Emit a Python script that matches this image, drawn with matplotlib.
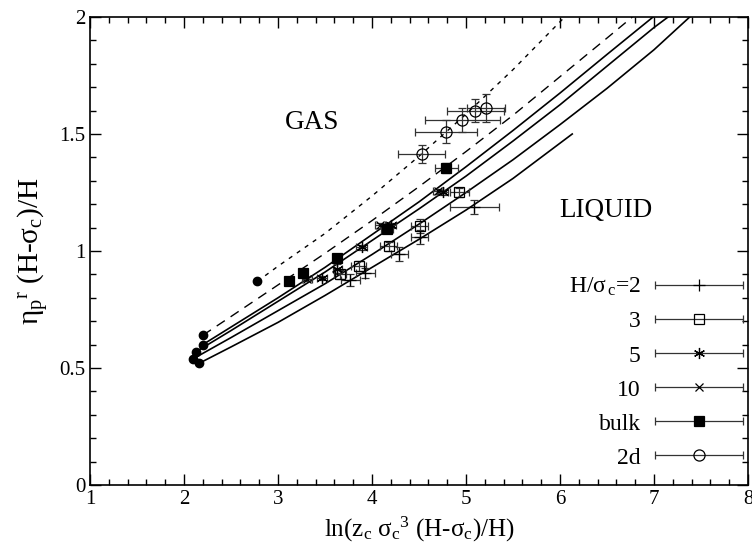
import matplotlib
matplotlib.use('Agg')
import matplotlib.pyplot as plt
import numpy as np
from matplotlib.container import ErrorbarContainer
from matplotlib.legend_handler import HandlerErrorbar

plt.rcParams['font.family'] = ['Liberation Serif', 'DejaVu Serif']
plt.rcParams['mathtext.fontset'] = 'custom'
plt.rcParams['mathtext.rm'] = 'Liberation Serif'
plt.rcParams['mathtext.it'] = 'Liberation Serif:italic'

# theory curves
x_h2 = [2.16, 2.5, 3.0, 3.5, 4.0, 4.5, 5.0, 5.5, 6.13]
y_h2 = [0.52, 0.59, 0.695, 0.81, 0.93, 1.05, 1.175, 1.31, 1.50]
x_h3 = [2.1, 2.5, 3.0, 3.5, 4.0, 4.5, 5.0, 5.5, 6.0, 6.5, 7.0, 7.38]
y_h3 = [0.54, 0.63, 0.745, 0.86, 0.985, 1.115, 1.25, 1.39, 1.54, 1.695, 1.86, 2.0]
x_h5 = [2.13, 2.5, 3.0, 3.5, 4.0, 4.5, 5.0, 5.5, 6.0, 6.5, 7.0, 7.15]
y_h5 = [0.57, 0.66, 0.785, 0.91, 1.045, 1.18, 1.32, 1.47, 1.625, 1.79, 1.955, 2.0]
x_h10 = [2.2, 2.5, 3.0, 3.5, 4.0, 4.5, 5.0, 5.5, 6.0, 6.5, 6.99]
y_h10 = [0.60, 0.675, 0.80, 0.93, 1.07, 1.21, 1.36, 1.515, 1.675, 1.84, 2.0]
x_bulk = [2.2, 2.5, 3.0, 3.5, 4.0, 4.5, 5.0, 5.5, 6.0, 6.5, 6.77]
y_bulk = [0.64, 0.72, 0.855, 0.99, 1.13, 1.275, 1.425, 1.58, 1.745, 1.91, 2.0]
x_2d = [2.78, 3.0, 3.5, 4.0, 4.5, 5.0, 5.5, 6.05]
y_2d = [0.87, 0.935, 1.075, 1.235, 1.405, 1.585, 1.775, 2.0]

# simulation points: x, y, xerr, yerr
sim_h2 = [[3.77, 3.93, 4.29, 4.51, 5.09], [0.876, 0.906, 0.987, 1.06, 1.19],
          [0.10, 0.10, 0.09, 0.09, 0.26], [0.025, 0.02, 0.03, 0.03, 0.03]]
sim_h3 = [[3.66, 3.86, 4.18, 4.51, 4.93], [0.90, 0.936, 1.02, 1.107, 1.25],
          [0.06, 0.08, 0.09, 0.09, 0.10], [0.02, 0.02, 0.02, 0.03, 0.02]]
sim_h5 = [[3.47, 3.63, 3.89, 4.20, 4.75], [0.885, 0.925, 1.015, 1.11, 1.25],
          [0.05, 0.05, 0.06, 0.06, 0.06], [0.01, 0.02, 0.01, 0.01, 0.01]]
sim_h10 = [[3.31, 4.09, 4.70], [0.88, 1.11, 1.255],
           [0.05, 0.06, 0.05], [0.01, 0.01, 0.01]]
sim_bulk = [[3.12, 3.27, 3.63, 4.16, 4.79], [0.87, 0.905, 0.97, 1.095, 1.355],
            [0.03, 0.03, 0.03, 0.06, 0.12], [0.01, 0.01, 0.01, 0.02, 0.02]]
sim_2d = [[4.53, 4.79, 4.96, 5.10, 5.21], [1.414, 1.51, 1.56, 1.60, 1.61],
          [0.25, 0.33, 0.40, 0.30, 0.20], [0.04, 0.05, 0.05, 0.05, 0.06]]

labels = [r'H/$\mathrm{\sigma}_{\,\mathrm{c}}$=2', '3', '5', '10', 'bulk', '2d']

fig = plt.figure(figsize=(7.52, 5.55), dpi=100)
ax = fig.add_axes([0.1197, 0.1261, 0.8750, 0.8433])

for xc, yc in [(x_h2, y_h2), (x_h3, y_h3), (x_h5, y_h5), (x_h10, y_h10)]:
    ax.plot(xc, yc, color='black', lw=1.2)
ax.plot(x_bulk, y_bulk, color='black', lw=1.0, dashes=(7, 5))
ax.plot(x_2d, y_2d, color='black', lw=1.0, dashes=(3, 4))

# filled circles at the start of each curve
starts_x = [x_h2[0], x_h3[0], x_h5[0], x_h10[0], x_bulk[0], x_2d[0]]
starts_y = [y_h2[0], y_h3[0], y_h5[0], y_h10[0], y_bulk[0], y_2d[0]]
ax.plot(starts_x, starts_y, 'o', color='black', ms=6)

sims = [sim_h2, sim_h3, sim_h5, sim_h10, sim_bulk, sim_2d]
marks = [dict(marker='+', ms=8, mfc='none'),
         dict(marker='s', ms=7, mfc='none'),
         dict(marker=(6, 2, 0), ms=8, mfc='none'),
         dict(marker='x', ms=6, mfc='none'),
         dict(marker='s', ms=7, mfc='black'),
         dict(marker='o', ms=8, mfc='none')]

handles = []
for s, m, lab in zip(sims, marks, labels):
    ax.errorbar(s[0], s[1], xerr=s[2], yerr=s[3], ls='none', color='black',
                ecolor='#333333', elinewidth=0.9, capsize=3, mew=0.9, **m)
    h = ax.errorbar([np.nan], [np.nan], xerr=[0.1], ls='none', color='black',
                    ecolor='#333333', elinewidth=0.9, capsize=3, mew=0.9,
                    label=lab, **m)
    handles.append(h)

ax.legend(handles=handles, loc='lower right', bbox_to_anchor=(0.9924, 0.035),
          frameon=False, markerfirst=False, fontsize=17, handlelength=3.73,
          labelspacing=0.53, handletextpad=0.6, borderpad=0, borderaxespad=0,
          handler_map={ErrorbarContainer: HandlerErrorbar(xerr_size=1.86)})

ax.text(3.36, 1.55, 'GAS', fontsize=19.5, ha='center', va='center')
ax.text(6.49, 1.175, 'LIQUID', fontsize=19.5, ha='center', va='center')

ax.set_xlim(1, 8)
ax.set_ylim(0, 2)
ax.set_xticks(np.arange(1, 9, 1))
ax.set_xticks(np.arange(1, 8.01, 0.2), minor=True)
ax.set_yticks([0, 0.5, 1, 1.5, 2])
ax.set_yticklabels(['0', '0.5', '1', '1.5', '2'])
ax.set_yticks(np.arange(0, 2.01, 0.1), minor=True)
ax.tick_params(which='both', direction='in', top=True, right=True, labelsize=15)
ax.tick_params(which='major', length=8, width=1)
ax.tick_params(which='minor', length=4, width=1)
for sp in ax.spines.values():
    sp.set_linewidth(1.2)

ax.set_xlabel(r'ln(z$_\mathrm{c}$ $\mathrm{\sigma}_\mathrm{c}{}^3$ (H-$\mathrm{\sigma}_\mathrm{c}$)/H)',
              fontsize=18)
ax.set_ylabel(r'$\mathrm{\eta}_\mathrm{p}{}^\mathrm{r}$ (H-$\mathrm{\sigma}_\mathrm{c}$)/H',
              fontsize=21, labelpad=6)

fig.savefig('out.png', dpi=100)
